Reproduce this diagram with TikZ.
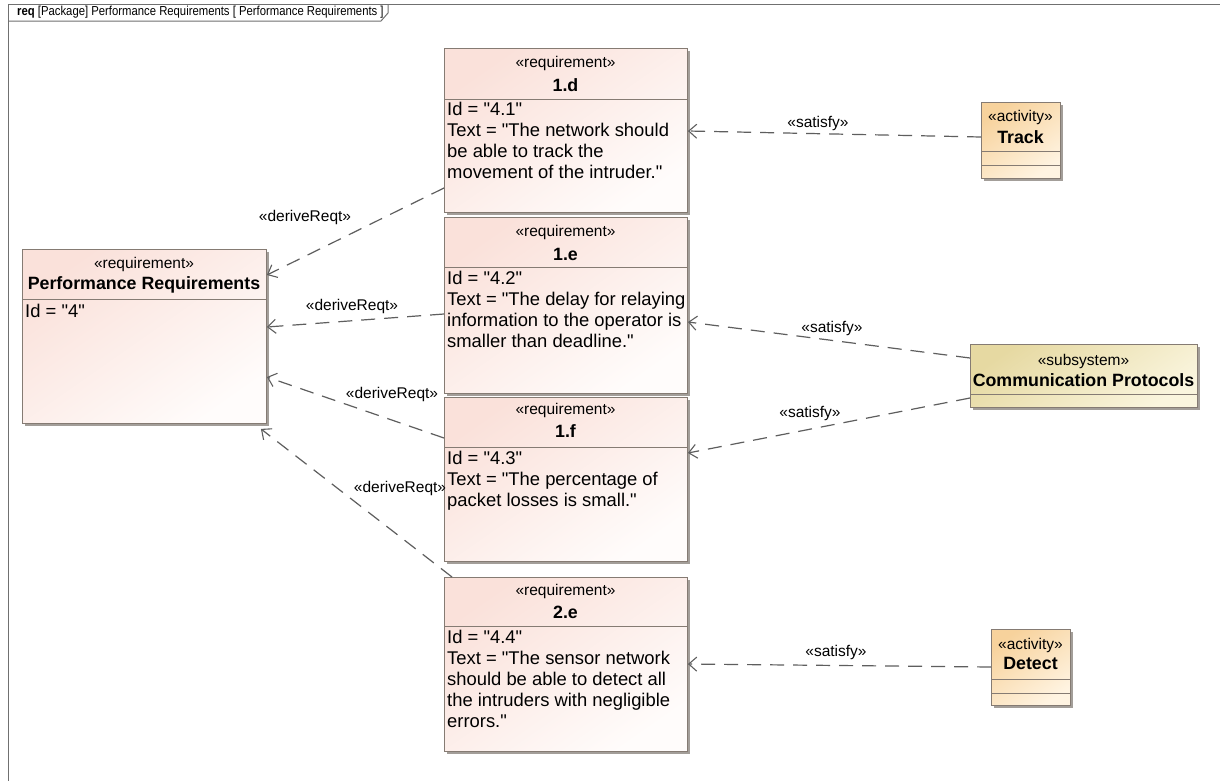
\documentclass[tikz,border=0pt]{standalone}
\usepackage{fontspec}
\setmainfont{Liberation Sans}[Ligatures=TeXOff]
\newfontfamily\hdrfont{Liberation Sans}[Ligatures=TeXOff,FakeStretch=0.87]
\usetikzlibrary{arrows.meta,shadows,calc}
\definecolor{reqA}{HTML}{FAE1DA}
\definecolor{reqB}{HTML}{FFFCFB}
\definecolor{actA}{HTML}{F7D29C}
\definecolor{actB}{HTML}{FFF4E2}
\definecolor{subA}{HTML}{E6D9A2}
\definecolor{subB}{HTML}{FAF5DE}
\definecolor{boxc}{HTML}{857B73}
\definecolor{linec}{HTML}{5E5E5E}
\definecolor{framec}{HTML}{707070}
\definecolor{shadowc}{HTML}{A39E99}
\begin{document}
\begin{tikzpicture}[x=1pt,y=-1pt,
 umlbox/.style={draw=boxc, line width=0.9pt, inner sep=0pt, anchor=north west,
   drop shadow={shadow xshift=3pt, shadow yshift=-3pt, fill=shadowc, opacity=1}},
 reqbox/.style={umlbox, top color=reqA, bottom color=reqB, shading angle=35, minimum width=243pt},
 actbox/.style={umlbox, top color=actA, bottom color=actB, shading angle=35, minimum width=79pt, minimum height=76pt},
 subbox/.style={umlbox, top color=subA, bottom color=subB, shading angle=35},
 stereo/.style={font=\fontsize{15.5}{18}\selectfont, inner sep=0pt},
 bname/.style={font=\fontsize{17.8}{20}\selectfont\bfseries, inner sep=0pt},
 bodytext/.style={font=\fontsize{18.4}{21}\selectfont, inner sep=0pt, align=left, anchor=north west},
 sepline/.style={draw=boxc, line width=0.9pt},
 deprel/.style={draw=linec, line width=1.2pt, dash pattern=on 14pt off 9pt,
   -{Straight Barb[length=8pt,width=14pt,line width=1.1pt]}},
 lbl/.style={font=\fontsize{15.5}{18}\selectfont, inner sep=0pt},
]
\useasboundingbox (0,0) rectangle (1220,780);
\fill[white] (0,0) rectangle (1220,780);
\clip (0,0) rectangle (1220,780);

% frame
\draw[framec, line width=1pt] (8,800) -- (8,4) -- (1230,4);
\draw[framec, line width=1pt] (8,21) -- (381,21) -- (388,13) -- (388,4);
\node[anchor=west, inner sep=0pt, font=\hdrfont\fontsize{13}{15}\selectfont] (hdr) at (17,12.5)
  {\textbf{req} [Package] Performance Requirements [ Performance Requirements ]};

% Performance Requirements
\node[reqbox, minimum width=244pt, minimum height=174pt] (perf) at (22,249) {};
\draw[sepline] (22,299) -- (266,299);
\node[stereo] (perfS) at (144,264) {«requirement»};
\node[bname] (perfN) at (144,285) {Performance Requirements};
\node[bodytext] (perfB) at (25,304) {Id = "4"};

% 1.d
\node[reqbox, minimum height=164pt] (rd) at (444,48) {};
\draw[sepline] (444,99) -- (687,99);
\node[stereo] (rdS) at (565.5,63) {«requirement»};
\node[bname] (rdN) at (565.5,85) {1.d};
\node[bodytext] (rdB) at (447,102) {Id = "4.1"\\Text = "The network should\\be able to track the\\movement of the intruder."};

% 1.e
\node[reqbox, minimum height=176pt] (re) at (444,217) {};
\draw[sepline] (444,267) -- (687,267);
\node[stereo] (reS) at (565.5,232) {«requirement»};
\node[bname] (reN) at (565.5,254) {1.e};
\node[bodytext] (reB) at (447,271) {Id = "4.2"\\Text = "The delay for relaying\\information to the operator is\\smaller than deadline."};

% 1.f
\node[reqbox, minimum height=164pt] (rf) at (444,397) {};
\draw[sepline] (444,447) -- (687,447);
\node[stereo] (rfS) at (565.5,410) {«requirement»};
\node[bname] (rfN) at (565.5,431) {1.f};
\node[bodytext] (rfB) at (447,451) {Id = "4.3"\\Text = "The percentage of\\packet losses is small."};

% 2.e
\node[reqbox, minimum height=174pt] (rg) at (444,577) {};
\draw[sepline] (444,626) -- (687,626);
\node[stereo] (rgS) at (565.5,591) {«requirement»};
\node[bname] (rgN) at (565.5,612) {2.e};
\node[bodytext] (rgB) at (447,630) {Id = "4.4"\\Text = "The sensor network\\should be able to detect all\\the intruders with negligible\\errors."};

% Track
\node[actbox] (track) at (981,102) {};
\draw[sepline] (981,151) -- (1060,151);
\draw[sepline] (981,165) -- (1060,165);
\node[stereo] (trackS) at (1020.5,117) {«activity»};
\node[bname] (trackN) at (1020.5,137) {Track};

% Communication Protocols
\node[subbox, minimum width=227pt, minimum height=63pt] (comm) at (970,344) {};
\draw[sepline] (970,394) -- (1197,394);
\node[stereo] (commS) at (1083.5,361) {«subsystem»};
\node[bname] (commN) at (1083.5,380) {Communication Protocols};

% Detect
\node[actbox] (detect) at (991,629) {};
\draw[sepline] (991,679) -- (1070,679);
\draw[sepline] (991,693) -- (1070,693);
\node[stereo] (detectS) at (1030.5,645) {«activity»};
\node[bname] (detectN) at (1030.5,663) {Detect};

% deriveReqt
\draw[deprel] (rd.west |- 0,188) -- (perf.east |- 0,275);
\draw[deprel] (re.west |- 0,314) -- (perf.east |- 0,327);
\draw[deprel] (rf.west |- 0,438) -- (perf.east |- 0,377);
\draw[deprel] (rg.north -| 452,0) -- ([xshift=-6pt,yshift=-5pt]perf.south east);
\node[lbl] (l1) at (305,217) {«deriveReqt»};
\node[lbl] (l2) at (352,306) {«deriveReqt»};
\node[lbl] (l3) at (392,394) {«deriveReqt»};
\node[lbl] (l4) at (400,488) {«deriveReqt»};

% satisfy
\draw[deprel] (track.west |- 0,137) -- (rd.east |- 0,131);
\draw[deprel] (comm.west |- 0,358) -- (re.east |- 0,322);
\draw[deprel] (comm.west |- 0,398) -- (rf.east |- 0,453);
\draw[deprel] (detect.west |- 0,667) -- (rg.east |- 0,664);
\node[lbl] (s1) at (818,123) {«satisfy»};
\node[lbl] (s2) at (832,328) {«satisfy»};
\node[lbl] (s3) at (810,413) {«satisfy»};
\node[lbl] (s4) at (836,652) {«satisfy»};
\end{tikzpicture}
\end{document}
